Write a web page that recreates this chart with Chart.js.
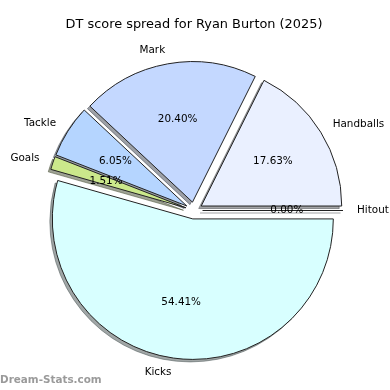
<!DOCTYPE html>
<html>
<head>
<meta charset="utf-8">
<script src="https://cdn.jsdelivr.net/npm/chart.js@4/dist/chart.umd.min.js"></script>
<style>
html,body{margin:0;padding:0;background:#fff;}
canvas{display:block;}
</style>
</head>
<body>
<canvas id="c" width="390" height="390"></canvas>
<script>
// Data in drawing order (clockwise from 3 o'clock)
const categories = ['Kicks', 'Goals', 'Tackle', 'Mark', 'Handballs', 'Hitout'];
const values = [54.41, 1.51, 6.05, 20.40, 17.63, 0.00];
const sliceColors = ['#d8ffff', '#cbe88b', '#b5d5ff', '#c4d8ff', '#eaf0ff', '#e8eeff'];
const titleText = 'DT score spread for Ryan Burton (2025)';
const watermark = 'Dream-Stats.com';

const EXPLODE = 8.5;
const SH_DX = -2.5, SH_DY = 2.5;
const FONT = '"DejaVu Sans", sans-serif';

function shadowColor(hex) {
  const n = parseInt(hex.slice(1), 16);
  const r = ((n >> 16) & 255) * 0.3, g = ((n >> 8) & 255) * 0.3, b = (n & 255) * 0.3;
  return 'rgba(' + r.toFixed(0) + ',' + g.toFixed(0) + ',' + b.toFixed(0) + ',0.5)';
}

const mplPie = {
  id: 'mplPie',
  beforeDatasetDraw(chart, args) {
    const ctx = chart.ctx;
    const meta = args.meta;
    const arcs = meta.data;
    // shadows first
    arcs.forEach((el, i) => {
      const p = el.getProps(['x', 'y', 'startAngle', 'endAngle', 'outerRadius'], true);
      const mid = (p.startAngle + p.endAngle) / 2;
      const ox = Math.cos(mid) * EXPLODE + SH_DX, oy = Math.sin(mid) * EXPLODE + SH_DY;
      ctx.save();
      ctx.translate(ox, oy);
      ctx.fillStyle = shadowColor(sliceColors[i]);
      ctx.strokeStyle = shadowColor(sliceColors[i]);
      ctx.lineWidth = 1;
      ctx.beginPath();
      ctx.moveTo(p.x, p.y);
      if (p.endAngle - p.startAngle > 0) {
        ctx.arc(p.x, p.y, p.outerRadius, p.startAngle, p.endAngle);
        ctx.closePath();
        ctx.fill();
        ctx.stroke();
      } else {
        ctx.lineTo(p.x + Math.cos(p.startAngle) * p.outerRadius, p.y + Math.sin(p.startAngle) * p.outerRadius);
        ctx.stroke();
      }
      ctx.restore();
    });
    // wedges
    arcs.forEach((el, i) => {
      const p = el.getProps(['x', 'y', 'startAngle', 'endAngle', 'outerRadius'], true);
      const mid = (p.startAngle + p.endAngle) / 2;
      ctx.save();
      ctx.translate(Math.cos(mid) * EXPLODE, Math.sin(mid) * EXPLODE);
      if (p.endAngle - p.startAngle > 0) {
        el.draw(ctx);
      } else {
        ctx.strokeStyle = '#222';
        ctx.lineWidth = 1;
        ctx.beginPath();
        ctx.moveTo(p.x, p.y);
        ctx.lineTo(p.x + Math.cos(p.startAngle) * p.outerRadius, p.y + Math.sin(p.startAngle) * p.outerRadius);
        ctx.stroke();
      }
      ctx.restore();
    });
    return false;
  },
  afterDatasetsDraw(chart) {
    const ctx = chart.ctx;
    const meta = chart.getDatasetMeta(0);
    const total = values.reduce((a, b) => a + b, 0);
    ctx.save();
    ctx.fillStyle = '#000';
    ctx.textBaseline = 'middle';
    meta.data.forEach((el, i) => {
      const p = el.getProps(['x', 'y', 'startAngle', 'endAngle', 'outerRadius'], true);
      const mid = (p.startAngle + p.endAngle) / 2;
      const dx = Math.cos(mid), dy = Math.sin(mid);
      const r = p.outerRadius;
      // category label
      ctx.font = '10.4px ' + FONT;
      const lx = p.x + dx * (EXPLODE + 1.1 * r), ly = p.y + dy * (EXPLODE + 1.1 * r);
      ctx.textAlign = dx > 0 ? 'left' : 'right';
      ctx.fillText(categories[i], lx, ly);
      // percentage
      const px = p.x + dx * (EXPLODE + 0.6 * r), py = p.y + dy * (EXPLODE + 0.6 * r);
      ctx.textAlign = 'center';
      ctx.fillText((values[i] / total * 100).toFixed(2) + '%', px, py);
    });
    // title
    ctx.font = '12.9px ' + FONT;
    ctx.textAlign = 'center';
    ctx.fillText(titleText, 194, 25);
    // watermark
    ctx.font = 'bold 10.4px ' + FONT;
    ctx.textAlign = 'left';
    ctx.fillStyle = 'rgba(120,120,120,0.75)';
    ctx.fillText(watermark, 0, 380);
    ctx.restore();
  }
};

new Chart(document.getElementById('c'), {
  type: 'pie',
  data: {
    labels: categories,
    datasets: [{
      data: values,
      backgroundColor: sliceColors,
      borderColor: '#222',
      borderWidth: 1,
      borderJoinStyle: 'miter'
    }]
  },
  options: {
    responsive: false,
    animation: false,
    rotation: 90,
    radius: 140.5,
    layout: { padding: { left: 0, right: 2, top: 31, bottom: 0 } },
    plugins: { legend: { display: false }, tooltip: { enabled: false }, title: { display: false } },
    events: []
  },
  plugins: [mplPie]
});
</script>
</body>
</html>
